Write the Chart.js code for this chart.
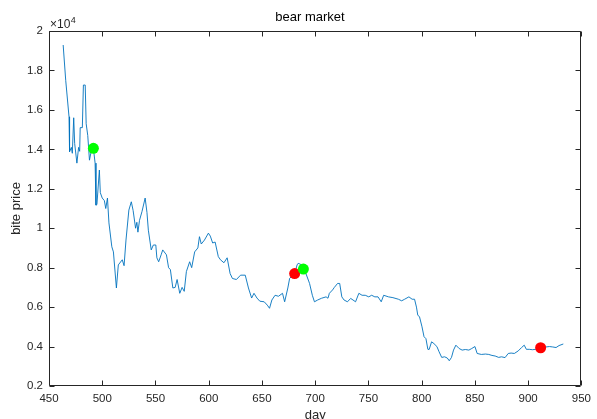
<!DOCTYPE html>
<html>
<head>
<meta charset="utf-8">
<script src="https://cdn.jsdelivr.net/npm/chart.js@4/dist/chart.umd.min.js"></script>
<style>
  html, body { margin: 0; padding: 0; background: #fff; }
  #chart { display: block; }
</style>
</head>
<body>
<canvas id="chart" width="597" height="419"></canvas>
<script>
// --- DATA ---
const days = [
  463.3, 465.7, 468.8, 469.3, 471.0, 471.9, 473.2, 474.1, 476.2, 477.8, 478.8, 479.3, 481.3, 482.3, 484.0,
  484.9, 486.4, 488.0, 490.0, 491.7, 493.3, 494.1, 495.0, 497.3, 498.2, 500.0, 502.0, 503.3, 504.9, 506.3,
  509.0, 510.5, 513.3, 515.1, 518.8, 520.5, 522.3, 525.0, 527.3, 529.0, 531.3, 532.5, 533.5, 535.0, 537.3,
  540.3, 542.0, 543.3, 546.0, 548.0, 550.3, 551.3, 553.0, 555.3, 556.8, 560.3, 562.3, 564.0, 566.3, 568.5,
  570.3, 572.8, 575.0, 577.0, 579.0, 582.1, 584.0, 586.8, 589.8, 591.3, 593.0, 596.0, 599.7, 601.5, 603.7,
  606.0, 609.0, 611.0, 614.3, 617.3, 620.1, 622.3, 626.0, 629.9, 634.3, 637.3, 640.3, 642.5, 645.3, 648.0,
  652.1, 655.0, 657.1, 659.3, 662.3, 665.5, 669.3, 671.3, 674.3, 676.0, 680.7, 683.0, 684.0, 687.0, 689.0,
  691.3, 694.7, 697.3, 699.3, 702.3, 706.0, 710.2, 712.0, 713.3, 716.3, 718.0, 721.0, 723.0, 725.0, 727.1,
  730.3, 733.3, 735.5, 737.9, 741.0, 744.0, 747.0, 750.3, 753.0, 756.0, 759.0, 762.0, 764.3, 768.8, 773.0,
  778.1, 781.2, 784.0, 788.0, 791.0, 793.3, 795.1, 796.3, 798.0, 800.3, 802.2, 804.0, 805.8, 807.0, 809.3,
  811.5, 814.3, 816.3, 818.8, 821.5, 824.0, 825.9, 828.0, 829.9, 832.1, 835.2, 838.0, 841.0, 844.3, 847.0,
  850.0, 852.1, 856.0, 859.9, 863.0, 866.0, 869.0, 872.3, 875.0, 878.3, 881.3, 884.0, 887.0, 890.7, 893.8,
  896.3, 898.3, 901.0, 904.0, 907.0, 911.7, 915.0, 920.0, 923.0, 926.2, 929.0, 933.0
];
const prices = [
  19290, 17500, 15650, 13880, 14100, 13800, 15600, 14300, 13300, 14100, 13900, 15100, 15100, 17260, 17260,
  15300, 14700, 13450, 14000, 14050, 13300, 11170, 11200, 12950, 11800, 11530, 11400, 11000, 11530, 10270,
  9060, 8800, 6970, 8140, 8400, 8100, 9400, 10920, 11340, 10900, 10000, 10300, 9800, 10400, 10840,
  11530, 10800, 9900, 8900, 9150, 9150, 8500, 8300, 8650, 8900, 8650, 8000, 7900, 6970, 7000,
  7400, 6700, 7000, 6800, 7800, 8300, 8000, 8800, 9000, 9570, 9200, 9400, 9750, 9600, 9250,
  9300, 8560, 8400, 8250, 8500, 7700, 7450, 7400, 7620, 7620, 6970, 6460, 6700, 6460, 6300,
  6270, 6100, 5940, 6360, 6600, 6550, 6700, 6270, 6970, 7460, 7700, 8140, 8220, 8150, 8000,
  7700, 7200, 6600, 6270, 6360, 6450, 6520, 6450, 6700, 6870, 7000, 7200, 7200, 6520, 6360,
  6270, 6440, 6360, 6270, 6700, 6600, 6600, 6520, 6600, 6520, 6520, 6270, 6600, 6520, 6480,
  6400, 6320, 6400, 6520, 6400, 6400, 6000, 5600, 5500, 5000, 4500, 4400, 3860, 3850, 4240,
  4150, 4000, 3740, 3450, 3480, 3420, 3280, 3450, 3820, 4070, 3900, 3820, 3850, 3820, 3900,
  4000, 3650, 3600, 3620, 3600, 3550, 3520, 3450, 3480, 3440, 3650, 3670, 3650, 3780, 3950,
  4070, 3860, 3860, 3840, 3860, 3940, 3970, 4000, 3980, 3950, 4050, 4130
];
const greenDays = [491.7, 688.9];
const greenPrices = [14050, 7930];
const redDays = [680.7, 911.7];
const redPrices = [7700, 3940];
const xTicks = [450, 500, 550, 600, 650, 700, 750, 800, 850, 900, 950];
const yTicks = [2000, 4000, 6000, 8000, 10000, 12000, 14000, 16000, 18000, 20000];

const AXIS_COLOR = '#262626';
const FONT = 'Arial, "Liberation Sans", Helvetica, sans-serif';

function toPoints(xs, ys) {
  return xs.map((x, i) => ({ x: x, y: ys[i] }));
}

// --- MATLAB style box, inward ticks, title and exponent ---
const matlabAxes = {
  id: 'matlabAxes',
  beforeDraw(chart) {
    const ctx = chart.ctx;
    ctx.save();
    ctx.fillStyle = '#fff';
    ctx.fillRect(0, 0, chart.width, chart.height);
    ctx.restore();
  },
  afterDraw(chart) {
    const { ctx, chartArea: a, scales } = chart;
    const L = Math.round(a.left) + 0.5, R = Math.round(a.right) - 0.5;
    const T = Math.round(a.top) + 0.5, B = Math.round(a.bottom) - 0.5;
    const tl = 5;
    ctx.save();
    ctx.strokeStyle = AXIS_COLOR;
    ctx.lineWidth = 1;
    ctx.beginPath();
    ctx.rect(L, T, R - L, B - T);
    xTicks.forEach(v => {
      const px = Math.round(scales.x.getPixelForValue(v)) + 0.5;
      ctx.moveTo(px, B); ctx.lineTo(px, B - tl);
      ctx.moveTo(px, T); ctx.lineTo(px, T + tl);
    });
    yTicks.forEach(v => {
      const py = Math.round(scales.y.getPixelForValue(v)) + 0.5;
      ctx.moveTo(L, py); ctx.lineTo(L + tl, py);
      ctx.moveTo(R, py); ctx.lineTo(R - tl, py);
    });
    ctx.stroke();

    // title
    ctx.fillStyle = '#000';
    ctx.font = '13px ' + FONT;
    ctx.textAlign = 'center';
    ctx.textBaseline = 'alphabetic';
    ctx.fillText('bear market', 310, 20.5);

    // exponent label
    ctx.fillStyle = AXIS_COLOR;
    ctx.textAlign = 'left';
    ctx.font = '12px ' + FONT;
    ctx.fillText('\u00d710', 50, 28);
    const w = ctx.measureText('\u00d710').width;
    ctx.font = '9px ' + FONT;
    ctx.fillText('4', 50 + w + 0.5, 23);
    ctx.restore();
  }
};

new Chart(document.getElementById('chart').getContext('2d'), {
  type: 'scatter',
  data: {
    datasets: [
      {
        data: toPoints(greenDays, greenPrices),
        backgroundColor: '#00ff00',
        borderWidth: 0,
        pointRadius: 5.5,
        order: 0
      },
      {
        data: toPoints(redDays, redPrices),
        backgroundColor: '#ff0000',
        borderWidth: 0,
        pointRadius: 5.5,
        order: 0
      },
      {
        data: toPoints(days, prices),
        showLine: true,
        borderColor: '#0072bd',
        borderWidth: 0.9,
        pointRadius: 0,
        tension: 0,
        order: 1
      }
    ]
  },
  options: {
    responsive: false,
    animation: false,
    devicePixelRatio: 1,
    layout: { padding: { left: 0, right: 8, top: 31, bottom: 0 } },
    plugins: {
      legend: { display: false },
      tooltip: { enabled: false },
      title: { display: false }
    },
    scales: {
      x: {
        type: 'linear',
        min: 450,
        max: 950,
        afterFit: (scale) => { scale.height = 33; },
        afterBuildTicks: (scale) => { scale.ticks = xTicks.map(v => ({ value: v })); },
        grid: { display: false, drawTicks: false },
        border: { display: false },
        ticks: {
          padding: 6,
          color: AXIS_COLOR,
          font: { family: FONT, size: 11.5 },
          maxRotation: 0,
          autoSkip: false
        },
        title: {
          display: true,
          text: 'day',
          color: AXIS_COLOR,
          font: { family: FONT, size: 13 },
          padding: { top: 0, bottom: -4 }
        }
      },
      y: {
        type: 'linear',
        min: 2000,
        max: 20000,
        afterFit: (scale) => { scale.width = 49; },
        afterBuildTicks: (scale) => { scale.ticks = yTicks.map(v => ({ value: v })); },
        grid: { display: false, drawTicks: false },
        border: { display: false },
        ticks: {
          padding: 6,
          color: AXIS_COLOR,
          font: { family: FONT, size: 11.5 },
          callback: (v) => String(+(v / 10000).toFixed(1))
        },
        title: {
          display: true,
          text: 'bite price',
          color: AXIS_COLOR,
          font: { family: FONT, size: 13 },
          padding: { top: 9, bottom: 0 }
        }
      }
    }
  },
  plugins: [matlabAxes]
});
</script>
</body>
</html>
